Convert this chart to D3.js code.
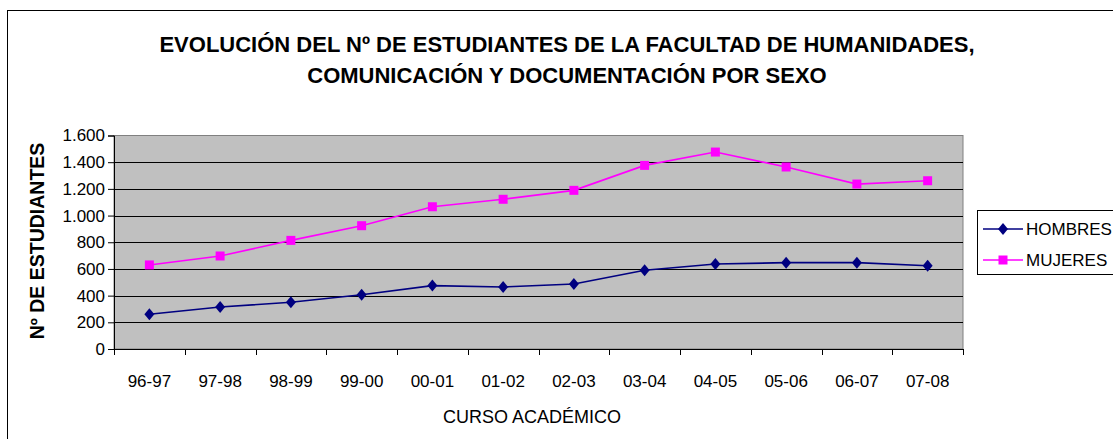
<!DOCTYPE html>
<html><head><meta charset="utf-8">
<script src="https://cdn.jsdelivr.net/npm/d3@7"></script>
<style>body{margin:0;background:#fff}svg{display:block;font-family:"Liberation Sans",Arial,sans-serif}</style>
</head><body><svg id="c" width="1113" height="439"></svg>
<script>
const categories = ["96-97","97-98","98-99","99-00","00-01","01-02","02-03","03-04","04-05","05-06","06-07","07-08"];
const hombres = [260,315,350,407,475,465,487,590,637,647,647,624];
const mujeres = [630,697,814,924,1066,1122,1189,1376,1476,1364,1236,1261];
const yTicks = [0,200,400,600,800,1000,1200,1400,1600];
const seriesNames = ["HOMBRES","MUJERES"];
const seriesColors = ["#000080","#FF00FF"];

const svg = d3.select("#c");
const L=114,R=963,T=135.5,B=349;
svg.append("rect").attr("x",7.5).attr("y",10.5).attr("width",1200).attr("height",500).attr("fill","#fff").attr("stroke","#000").attr("stroke-width",1);

const x = d3.scaleBand().domain(categories).range([L,R]);
const y = d3.scaleLinear().domain([0,1600]).range([B,T]);

svg.append("rect").attr("x",L).attr("y",T).attr("width",R-L).attr("height",B-T).attr("fill","#C0C0C0").attr("stroke","#808080");
svg.append("g").selectAll("line").data(yTicks.slice(1,-1)).join("line")
  .attr("x1",L).attr("x2",R).attr("y1",d=>Math.round(y(d))+0.5).attr("y2",d=>Math.round(y(d))+0.5).attr("stroke","#000");

const fmt = d=>d3.format(",")(d).replace(/,/g,".");
const ya = svg.append("g").attr("transform",`translate(${L},0)`).call(d3.axisLeft(y).tickValues(yTicks).tickFormat(fmt).tickSize(6).tickPadding(3));
ya.select(".domain").attr("stroke","#000");
ya.selectAll("text").attr("font-size",17).attr("fill","#000").attr("font-family","Liberation Sans, Arial");
const xa = svg.append("g").attr("transform",`translate(0,${B})`).call(d3.axisBottom(x).tickSize(0).tickPadding(26));
xa.select(".domain").attr("stroke","#000");
xa.selectAll("text").attr("font-size",17).attr("fill","#000").attr("font-family","Liberation Sans, Arial");
svg.append("g").selectAll("line").data(d3.range(categories.length+1)).join("line")
  .attr("x1",i=>Math.round(L+i*x.step())+0.5).attr("x2",i=>Math.round(L+i*x.step())+0.5).attr("y1",B).attr("y2",B+6).attr("stroke","#000");

const line = d3.line().x((d,i)=>x(categories[i])+x.bandwidth()/2).y(d=>y(d));
const diamond = "M0,-6L5,0L0,6L-5,0Z";
function marker(g,k,cx,cy){
  if(k===0) g.append("path").attr("d",diamond).attr("transform",`translate(${cx},${cy})`).attr("fill",seriesColors[0]);
  else g.append("rect").attr("x",cx-4.5).attr("y",cy-4.5).attr("width",9).attr("height",9).attr("fill",seriesColors[1]);
}
[hombres,mujeres].forEach((s,k)=>{
  svg.append("path").datum(s).attr("d",line).attr("fill","none").attr("stroke",seriesColors[k]).attr("stroke-width",1.6);
  const g = svg.append("g");
  s.forEach((v,i)=>marker(g,k,x(categories[i])+x.bandwidth()/2,y(v)));
});

svg.append("text").attr("x",567).attr("y",51.5).attr("text-anchor","middle").attr("font-size",22).attr("font-weight","bold").text("EVOLUCIÓN DEL Nº DE ESTUDIANTES DE LA FACULTAD DE HUMANIDADES,");
svg.append("text").attr("x",567).attr("y",83).attr("text-anchor","middle").attr("font-size",22).attr("font-weight","bold").text("COMUNICACIÓN Y DOCUMENTACIÓN POR SEXO");
svg.append("text").attr("transform","translate(44,241) rotate(-90)").attr("text-anchor","middle").attr("font-size",19.5).attr("font-weight","bold").text("Nº DE ESTUDIANTES");
svg.append("text").attr("x",532).attr("y",423).attr("text-anchor","middle").attr("font-size",18).text("CURSO ACADÉMICO");

const lg = svg.append("g");
lg.append("rect").attr("x",977.5).attr("y",210.5).attr("width",200).attr("height",64).attr("fill","#fff").attr("stroke","#000");
[229,260].forEach((yy,k)=>{
  lg.append("line").attr("x1",983).attr("x2",1023).attr("y1",yy).attr("y2",yy).attr("stroke",seriesColors[k]).attr("stroke-width",1.6);
  marker(lg,k,1003,yy);
  lg.append("text").attr("x",1026).attr("y",yy+6).attr("font-size",17).text(seriesNames[k]);
});
</script></body></html>
